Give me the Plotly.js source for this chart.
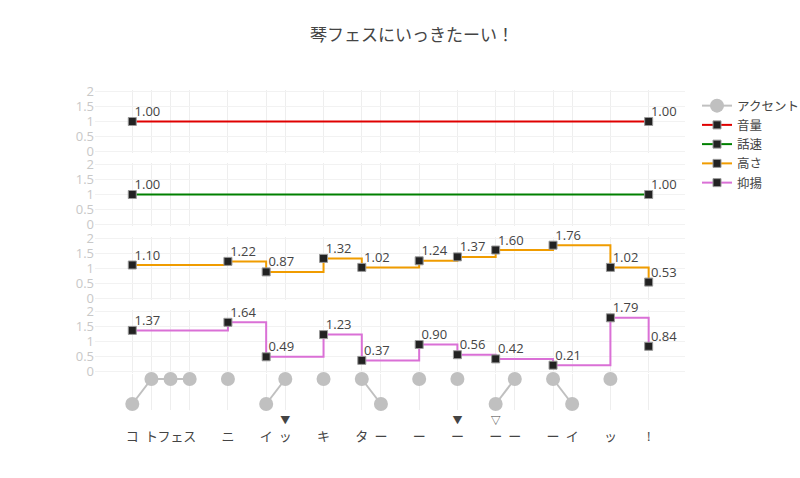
<!DOCTYPE html>
<html>
<head>
<meta charset="utf-8">
<script src="https://cdn.plot.ly/plotly-3.0.1.min.js"></script>
<style>html,body{margin:0;padding:0;background:#fff;}#chart{width:800px;height:478px;}</style>
</head>
<body>
<div id="chart"></div>
<script>
// ---- data ----
var moraPos = [0, 1, 2, 3, 5, 7, 8, 10, 12, 13, 15, 17, 19, 20, 22, 23, 25, 27];
var moraText = ['コ', 'ト', 'フェ', 'ス', 'ニ', 'イ', 'ッ', 'キ', 'タ', 'ー', 'ー', 'ー', 'ー', 'ー', 'ー', 'イ', 'ッ', '!'];
var moraMark = ['', '', '', '', '', '', '▼', '', '', '', '', '▼', '▽', '', '', '', '', ''];

// accent: null separates connected groups
var accentX = [0, 1, 2, 3, null, 5, null, 7, 8, null, 10, null, 12, 13, null, 15, null, 17, null, 19, 20, null, 22, 23, null, 25];
var accentY = [0, 1, 1, 1, null, 1, null, 0, 1, null, 1, null, 1, 0, null, 1, null, 1, null, 0, 1, null, 1, 0, null, 1];

var volumeX = [0, 27];
var volumeY = [1.00, 1.00];
var speedX = [0, 27];
var speedY = [1.00, 1.00];
var pitchX = [0, 5, 7, 10, 12, 15, 17, 19, 22, 25, 27];
var pitchY = [1.10, 1.22, 0.87, 1.32, 1.02, 1.24, 1.37, 1.60, 1.76, 1.02, 0.53];
var intonX = [0, 5, 7, 10, 12, 15, 17, 19, 22, 25, 27];
var intonY = [1.37, 1.64, 0.49, 1.23, 0.37, 0.90, 0.56, 0.42, 0.21, 1.79, 0.84];

var seriesNames = ['アクセント', '音量', '話速', '高さ', '抑揚'];
var titleText = '琴フェスにいっきたーい！';

// ---- build ----
function fmt(v){ return v.toFixed(2); }
function valTraces(name, xs, ys, color, axisIdx){
  return [{
    type: 'scatter', mode: 'lines+markers', name: name,
    x: xs, y: ys,
    line: {color: color, width: 2, shape: 'hv'},
    marker: {symbol: 'square', size: 8, color: '#222', line: {width: 1, color: '#999'}},
    xaxis: 'x' + axisIdx, yaxis: 'y' + axisIdx, cliponaxis: false
  }, {
    type: 'scatter', mode: 'markers+text', name: name, showlegend: false, hoverinfo: 'skip',
    x: xs, y: ys, text: ys.map(fmt), textposition: 'top right',
    marker: {size: 2, color: 'rgba(0,0,0,0)'},
    textfont: {size: 13, color: '#444'},
    xaxis: 'x' + axisIdx, yaxis: 'y' + axisIdx, cliponaxis: false
  }];
}

var traces = [
  {
    type: 'scatter', mode: 'lines+markers', name: seriesNames[0],
    x: accentX, y: accentY, connectgaps: false,
    line: {color: '#c0c0c0', width: 2},
    marker: {symbol: 'circle', size: 14, color: '#c0c0c0'},
    xaxis: 'x5', yaxis: 'y5', cliponaxis: false
  }
].concat(
  valTraces(seriesNames[1], volumeX, volumeY, '#e00000', 1),
  valTraces(seriesNames[2], speedX, speedY, 'green', 2),
  valTraces(seriesNames[3], pitchX, pitchY, '#f09c00', 3),
  valTraces(seriesNames[4], intonX, intonY, 'orchid', 4)
);

var tickText = moraPos.map(function(p, i){
  var m = moraMark[i] ? '<span style="font-size:10px">' + moraMark[i] + '</span>' : ' ';
  return m + '<br>' + moraText[i];
});

var xr = [-1.95, 28.9];
function xax(show){
  return {
    range: xr, tickmode: 'array', tickvals: moraPos, ticktext: tickText, tickangle: 0,
    showticklabels: show, showgrid: true, gridcolor: '#eeeeee', zeroline: false,
    showline: false, ticks: '', tickfont: {size: 13, color: '#444'}, fixedrange: true
  };
}
function yax(dom){
  return {
    domain: dom, range: [-0.05, 2.05], tickvals: [0, 0.5, 1, 1.5, 2],
    ticktext: ['0', '0.5', '1', '1.5', '2'],
    tickfont: {size: 13, color: '#c8c8c8'}, showgrid: true, gridcolor: '#f2f2f2',
    zeroline: false, showline: false
  };
}
var H = 320, bottomPx = 410;
function fr(px){ return (bottomPx - px) / H; }

var layout = {
  width: 800, height: 478,
  margin: {l: 95, r: 115, t: 90, b: 68},
  paper_bgcolor: '#fff', plot_bgcolor: '#fff',
  font: {family: '"Open Sans", "Noto Sans CJK JP", sans-serif', color: '#444'},
  title: {text: titleText, font: {size: 17, color: '#444'}, x: 0.515, xanchor: 'center', y: 1 - 35/478, yanchor: 'middle'},
  showlegend: true,
  legend: {xref: 'container', yref: 'container', x: 697/800, y: 1 - 91/478, xanchor: 'left', yanchor: 'top',
           font: {size: 12.5, color: '#444'}, tracegroupgap: 0},
  xaxis: Object.assign(xax(false), {anchor: 'y'}),
  xaxis2: Object.assign(xax(false), {anchor: 'y2', matches: 'x'}),
  xaxis3: Object.assign(xax(false), {anchor: 'y3', matches: 'x'}),
  xaxis4: Object.assign(xax(false), {anchor: 'y4', matches: 'x'}),
  xaxis5: Object.assign(xax(true), {anchor: 'y5', matches: 'x'}),
  yaxis: Object.assign(yax([fr(153), 1]), {anchor: 'x'}),
  yaxis2: Object.assign(yax([fr(226), fr(163)]), {anchor: 'x2'}),
  yaxis3: Object.assign(yax([fr(299.5), fr(236.5)]), {anchor: 'x3'}),
  yaxis4: Object.assign(yax([fr(373), fr(310)]), {anchor: 'x4'}),
  yaxis5: {domain: [0, fr(374)], range: [-0.24, 1.2], anchor: 'x5', showgrid: false, zeroline: false, showticklabels: false, showline: false}
};

Plotly.newPlot('chart', traces, layout, {displayModeBar: false, responsive: false});
</script>
</body>
</html>
